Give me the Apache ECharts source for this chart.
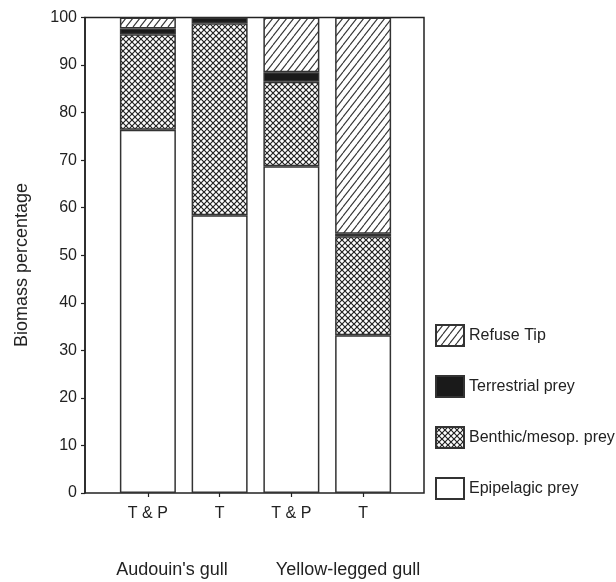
<!DOCTYPE html>
<html>
<head>
<meta charset="utf-8">
<script src="https://cdn.jsdelivr.net/npm/echarts@6/dist/echarts.min.js"></script>
<style>
  html, body { margin: 0; padding: 0; background: #fff; }
  #chart { width: 616px; height: 582px; }
</style>
</head>
<body>
<div id="chart"></div>
<script>
// Diet composition (biomass %) of two gull species by fishing regime
const categories = ['T & P', 'T', 'T & P', 'T'];
const groupLabels = ["Audouin's gull", 'Yellow-legged gull'];
const epipelagic = [76.4, 58.4, 68.7, 33.2];
const benthic = [20.1, 40.4, 17.8, 20.8];
const terrestrial = [1.2, 1.2, 2.0, 0.5];
const refuseTip = [2.3, null, 11.5, 45.5];
const yTicks = [0, 10, 20, 30, 40, 50, 60, 70, 80, 90, 100];

const FONT = '"Liberation Sans", Arial, sans-serif';
const INK = '#222';

// Single-direction hatch ("/") tile
function hatchPattern() {
  const w = 7, h = 9;
  const c = document.createElement('canvas');
  c.width = w; c.height = h;
  const g = c.getContext('2d');
  g.fillStyle = '#fff';
  g.fillRect(0, 0, w, h);
  g.strokeStyle = '#333';
  g.lineWidth = 1.1;
  for (const dx of [-w, 0, w]) {
    g.beginPath();
    g.moveTo(dx, h);
    g.lineTo(dx + w, 0);
    g.stroke();
  }
  return c;
}

// Diagonal cross-hatch tile
function crossPattern() {
  const s = 6;
  const c = document.createElement('canvas');
  c.width = s; c.height = s;
  const g = c.getContext('2d');
  g.fillStyle = '#fff';
  g.fillRect(0, 0, s, s);
  g.strokeStyle = '#222';
  g.lineWidth = 1.2;
  for (const dx of [-s, 0, s]) {
    g.beginPath();
    g.moveTo(dx, s); g.lineTo(dx + s, 0);
    g.moveTo(dx, 0); g.lineTo(dx + s, s);
    g.stroke();
  }
  return c;
}

const borderStyle = { borderColor: '#333', borderWidth: 1.5 };

function barSeries(name, data, fill) {
  return {
    name: name,
    type: 'bar',
    stack: 'diet',
    xAxisIndex: 1,
    yAxisIndex: 1,
    barWidth: 56,
    data: data,
    itemStyle: Object.assign({ color: fill }, borderStyle),
    emphasis: { disabled: true }
  };
}

const chart = echarts.init(document.getElementById('chart'), null, { renderer: 'canvas' });

chart.setOption({
  animation: false,
  backgroundColor: '#fff',
  textStyle: { fontFamily: FONT, color: INK },
  grid: [
    // frame with y scale
    { left: 85, right: 192, top: 17.5, bottom: 89, show: true, borderColor: INK, borderWidth: 1.5, backgroundColor: 'transparent' },
    // bar area
    { left: 112, right: 217, top: 17.5, bottom: 89 }
  ],
  xAxis: [
    { gridIndex: 0, type: 'value', min: 0, max: 1, show: false },
    {
      gridIndex: 1,
      type: 'category',
      data: categories,
      axisLine: { show: false },
      axisTick: { show: true, alignWithLabel: true, length: 4, lineStyle: { color: INK, width: 1.2 } },
      axisLabel: { fontSize: 16, color: INK, margin: 13, fontFamily: FONT }
    }
  ],
  yAxis: [
    {
      gridIndex: 0,
      type: 'value',
      min: yTicks[0],
      max: yTicks[yTicks.length - 1],
      interval: 10,
      splitLine: { show: false },
      axisLine: { show: true, lineStyle: { color: INK, width: 1.5 } },
      axisTick: { show: true, length: 4, lineStyle: { color: INK, width: 1.2 } },
      axisLabel: { fontSize: 16, color: INK, margin: 8, fontFamily: FONT }
    },
    { gridIndex: 1, type: 'value', min: 0, max: 100, show: false }
  ],
  legend: {
    orient: 'vertical',
    left: 435,
    top: 324,
    padding: 0,
    itemWidth: 28,
    itemHeight: 21,
    itemGap: 28,
    icon: 'rect',
    selectedMode: false,
    data: ['Refuse Tip', 'Terrestrial prey', 'Benthic/mesop. prey', 'Epipelagic prey'],
    textStyle: { fontSize: 16, color: INK, fontFamily: FONT }
  },
  series: [
    barSeries('Epipelagic prey', epipelagic, '#fff'),
    barSeries('Benthic/mesop. prey', benthic, { image: crossPattern(), repeat: 'repeat' }),
    barSeries('Terrestrial prey', terrestrial, '#1a1a1a'),
    barSeries('Refuse Tip', refuseTip, { image: hatchPattern(), repeat: 'repeat' })
  ],
  graphic: [
    {
      type: 'text',
      x: 22, y: 265,
      rotation: Math.PI / 2,
      style: { text: 'Biomass percentage', fontSize: 18, fontFamily: FONT, fill: INK, align: 'center', verticalAlign: 'middle' }
    },
    {
      type: 'text',
      x: 172, y: 570,
      style: { text: groupLabels[0], fontSize: 18, fontFamily: FONT, fill: INK, align: 'center', verticalAlign: 'middle' }
    },
    {
      type: 'text',
      x: 348, y: 570,
      style: { text: groupLabels[1], fontSize: 18, fontFamily: FONT, fill: INK, align: 'center', verticalAlign: 'middle' }
    }
  ]
});
</script>
</body>
</html>
